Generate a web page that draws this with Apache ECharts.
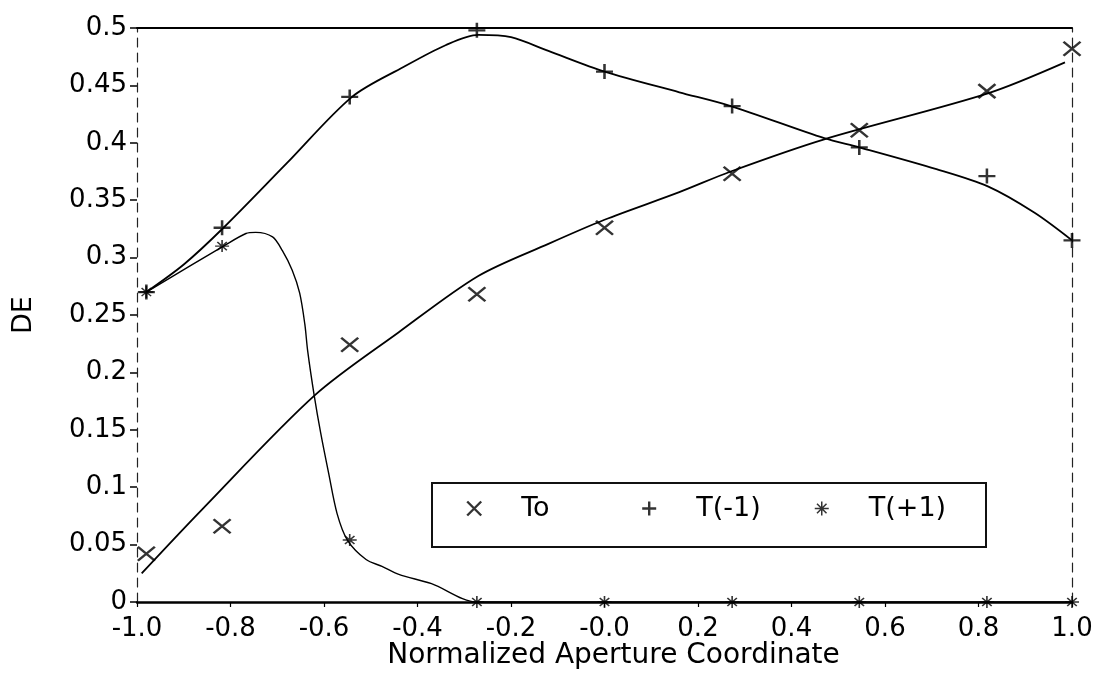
<!DOCTYPE html>
<html>
<head>
<meta charset="utf-8">
<script src="https://cdn.jsdelivr.net/npm/echarts@6/dist/echarts.min.js"></script>
<style>
  html, body { margin: 0; padding: 0; background: #ffffff; }
  #chart { width: 1098px; height: 686px; }
</style>
</head>
<body>
<div id="chart"></div>
<script>
// Tick labels
const xTickLabels = ['-1.0', '-0.8', '-0.6', '-0.4', '-0.2', '-0.0', '0.2', '0.4', '0.6', '0.8', '1.0'];
const yTickLabels = ['0', '0.05', '0.1', '0.15', '0.2', '0.25', '0.3', '0.35', '0.4', '0.45', '0.5'];

// Sample positions across the aperture
const apertureX = [-0.98, -0.818, -0.545, -0.273, 0.0, 0.273, 0.545, 0.818, 1.0];

// Measured diffraction efficiencies per order
const deTo  = [0.042, 0.066, 0.224, 0.268, 0.326, 0.373, 0.411, 0.445, 0.482];
const deTm1 = [0.270, 0.326, 0.440, 0.498, 0.462, 0.432, 0.396, 0.371, 0.315];
const deTp1 = [0.270, 0.310, 0.054, 0.000, 0.000, 0.000, 0.000, 0.000, 0.000];

// Fitted curves [x, DE]
const curveTo = [
  [-0.99, 0.025], [-0.86, 0.081], [-0.62, 0.180], [-0.44, 0.235], [-0.27, 0.284],
  [-0.12, 0.312], [0.0, 0.333], [0.16, 0.357], [0.27, 0.375], [0.47, 0.403],
  [0.82, 0.443], [0.985, 0.470]
];
const curveTm1 = [
  [-0.98, 0.270], [-0.90, 0.294], [-0.815, 0.326], [-0.68, 0.382], [-0.54, 0.440],
  [-0.43, 0.466], [-0.34, 0.485], [-0.27, 0.494], [-0.20, 0.492], [-0.12, 0.480],
  [0.0, 0.462], [0.16, 0.444], [0.27, 0.432], [0.47, 0.404], [0.545, 0.396],
  [0.71, 0.377], [0.82, 0.362], [0.92, 0.339], [1.0, 0.315]
];
const curveTp1 = [
  [-0.98, 0.270], [-0.815, 0.310], [-0.767, 0.321], [-0.746, 0.322], [-0.71, 0.318],
  [-0.689, 0.306], [-0.668, 0.289], [-0.652, 0.269], [-0.641, 0.242], [-0.635, 0.219],
  [-0.621, 0.180], [-0.607, 0.147], [-0.59, 0.112], [-0.572, 0.077], [-0.55, 0.054],
  [-0.51, 0.037], [-0.476, 0.031], [-0.44, 0.024], [-0.37, 0.016], [-0.273, 0.0],
  [0.0, 0.0], [0.273, 0.0], [0.545, 0.0], [0.818, 0.0], [1.0, 0.0]
];

const FONT = 'DejaVu Sans';
const INK = '#000000';

// Stroke-only marker shapes
const CROSS_X = 'path://M0,0L10,10M10,0L0,10';
const PLUS = 'path://M5,0L5,10M0,5L10,5';
const STAR = 'path://M5,0L5,10M0,5L10,5M1.6,1.6L8.4,8.4M8.4,1.6L1.6,8.4';

const markerStyle = (w) => ({ color: 'transparent', borderColor: INK, borderWidth: w });

// One legend per entry so the entries sit in even columns inside the framed box
const legendEntry = (name, icon, width, left) => ({
  show: true,
  orient: 'horizontal',
  left: left, top: 495,
  padding: 0,
  itemWidth: 18, itemHeight: 14, itemGap: 0,
  selectedMode: false,
  textStyle: { fontFamily: FONT, fontSize: 27, color: INK, padding: [0, 0, 0, 33] },
  data: [{ name: name, icon: icon, itemStyle: markerStyle(width) }],
  z: 6
});

const chart = echarts.init(document.getElementById('chart'), null, { renderer: 'canvas' });

const option = {
  animation: false,
  backgroundColor: '#ffffff',
  grid: {
    left: 137, right: 26, top: 28, bottom: 84,
    containLabel: false,
    outerBoundsMode: 'none'
  },
  graphic: [
    {
      type: 'rect', z: 5,
      shape: { x: 432, y: 483, width: 554, height: 64 },
      style: { fill: '#ffffff', stroke: '#111111', lineWidth: 2 }
    }
  ],
  xAxis: [
    {
      type: 'value', position: 'bottom',
      min: -1, max: 1, interval: 0.2,
      name: 'Normalized Aperture Coordinate',
      nameLocation: 'middle', nameGap: 40, nameMoveOverlap: false,
      nameTextStyle: { fontFamily: FONT, fontSize: 28, color: INK, padding: [0, 0, 0, 18] },
      axisLine: { show: true, onZero: false, lineStyle: { color: INK, width: 2.5 } },
      axisTick: { show: true, length: 5, lineStyle: { color: INK, width: 1.2 } },
      axisLabel: {
        fontFamily: FONT, fontSize: 26, color: INK, margin: 14,
        showMinLabel: true, showMaxLabel: true, hideOverlap: false,
        formatter: (v, i) => xTickLabels[i]
      },
      splitLine: { show: false }
    },
    {
      type: 'value', position: 'top',
      min: -1, max: 1, interval: 0.2,
      axisLine: { show: true, onZero: false, lineStyle: { color: INK, width: 2 } },
      axisTick: { show: false },
      axisLabel: { show: false },
      splitLine: { show: false }
    }
  ],
  yAxis: [
    {
      type: 'value', position: 'left',
      min: 0, max: 0.5, interval: 0.05,
      name: 'DE',
      nameLocation: 'middle', nameGap: 100, nameRotate: 90, nameMoveOverlap: false,
      nameTextStyle: { fontFamily: FONT, fontSize: 27, color: INK },
      axisLine: { show: true, onZero: false, lineStyle: { color: '#222', width: 1.2, type: [9, 6] } },
      axisTick: { show: true, length: 7, lineStyle: { color: INK, width: 1.5 } },
      axisLabel: {
        fontFamily: FONT, fontSize: 26, color: INK, margin: 10,
        showMinLabel: true, showMaxLabel: true, hideOverlap: false,
        formatter: (v, i) => yTickLabels[i]
      },
      splitLine: { show: false }
    },
    {
      type: 'value', position: 'right',
      min: 0, max: 0.5, interval: 0.05,
      axisLine: { show: true, onZero: false, lineStyle: { color: '#222', width: 1.2, type: [9, 6] } },
      axisTick: { show: false },
      axisLabel: { show: false },
      splitLine: { show: false }
    }
  ],
  legend: [
    legendEntry('To', CROSS_X, 2.4, 466),
    legendEntry('T(-1)', PLUS, 2.4, 641),
    legendEntry('T(+1)', STAR, 1.5, 814)
  ],
  series: [
    {
      name: 'To fit', type: 'line', data: curveTo,
      smooth: 0.3, symbol: 'none', silent: true,
      lineStyle: { color: INK, width: 1.8 }, z: 3
    },
    {
      name: 'T(-1) fit', type: 'line', data: curveTm1,
      smooth: 0.3, symbol: 'none', silent: true,
      lineStyle: { color: INK, width: 1.8 }, z: 3
    },
    {
      name: 'T(+1) fit', type: 'line', data: curveTp1,
      smooth: 0.3, symbol: 'none', silent: true,
      lineStyle: { color: INK, width: 1.4 }, z: 3
    },
    {
      name: 'To', type: 'scatter',
      data: apertureX.map((x, i) => [x, deTo[i]]),
      symbol: CROSS_X, symbolSize: [17, 14],
      itemStyle: markerStyle(2.4), z: 4
    },
    {
      name: 'T(-1)', type: 'scatter',
      data: apertureX.map((x, i) => [x, deTm1[i]]),
      symbol: PLUS, symbolSize: [17, 15],
      itemStyle: markerStyle(2.4), z: 4
    },
    {
      name: 'T(+1)', type: 'scatter',
      data: apertureX.map((x, i) => [x, deTp1[i]]),
      symbol: STAR, symbolSize: [14, 12],
      itemStyle: markerStyle(1.5), z: 4
    }
  ]
};

chart.setOption(option);
</script>
</body>
</html>
